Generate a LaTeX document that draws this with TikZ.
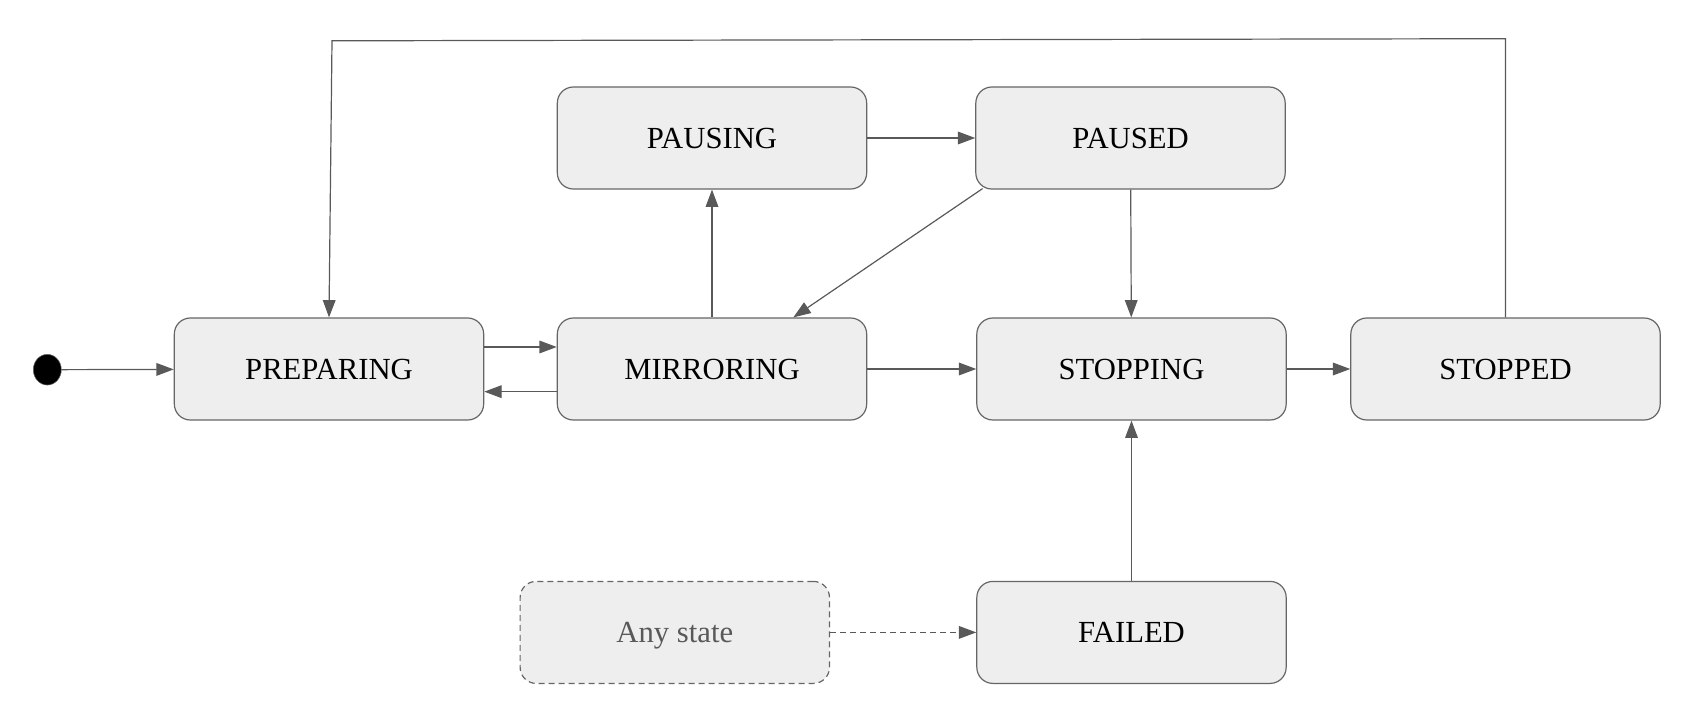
\documentclass[tikz,border=0pt]{standalone}
\usepackage{fontspec}
\setmainfont{Liberation Serif}
\usetikzlibrary{arrows.meta,positioning,shapes.geometric}
\definecolor{boxfill}{HTML}{EEEEEE}
\definecolor{boxline}{HTML}{666666}
\definecolor{edgegray}{HTML}{595959}

\begin{document}
\begin{tikzpicture}[x=0.75pt, y=-0.75pt, font=\fontsize{23}{27}\selectfont, >={Triangle[length=13pt,width=9.5pt]}]
  \tikzset{
    state/.style={draw=boxline, fill=boxfill, line width=0.9pt, rounded corners=12pt,
      minimum width=232pt, minimum height=76.5pt, text depth=0pt},
    anystate/.style={state, dash pattern=on 4.5pt off 3pt, text=edgegray},
    startdot/.style={draw=boxline, fill=black, ellipse, minimum width=21pt, minimum height=23pt, inner sep=0pt},
    trans/.style={->, draw=edgegray, line width=0.9pt}
  }
  \useasboundingbox (0,0) rectangle (1685,720);

  \node[startdot] (init) at (47.3,369.7) {};
  \node[state] (prep) at (329,369) {PREPARING};
  \node[state] (mirr) at (712,369) {MIRRORING};
  \node[state] (pausing) at (712,138) {PAUSING};
  \node[state] (paused) at (1130.5,138) {PAUSED};
  \node[state] (stopping) at (1131.5,369) {STOPPING};
  \node[state] (stopped) at (1505.5,369) {STOPPED};
  \node[state] (failed) at (1131.5,632.4) {FAILED};
  \node[anystate] (any) at (674.8,632.4) {Any state};

  \coordinate (topright) at (1505.5,38.7);
  \coordinate (topleft) at (332,40.8);

  \draw[trans] (init) -- (prep);
  \draw[trans] ([yshift=16.5pt]prep.east) -- ([yshift=16.5pt]mirr.west);
  \draw[trans] ([yshift=-17pt]mirr.west) -- ([yshift=-17pt]prep.east);
  \draw[trans] (mirr) -- (pausing);
  \draw[trans] (pausing) -- (paused);
  \draw[trans] ([xshift=5.5pt,yshift=0.75pt]paused.south west) -- ([xshift=61pt]mirr.north);
  \draw[trans] (paused) -- (stopping);
  \draw[trans] (mirr) -- (stopping);
  \draw[trans] (stopping) -- (stopped);
  \draw[trans] (failed) -- (stopping);
  \draw[trans, dash pattern=on 4.5pt off 3pt] (any) -- (failed);
  \draw[trans] (stopped.north) -- (topright) -- (topleft) -- (prep.north);
\end{tikzpicture}
\end{document}
